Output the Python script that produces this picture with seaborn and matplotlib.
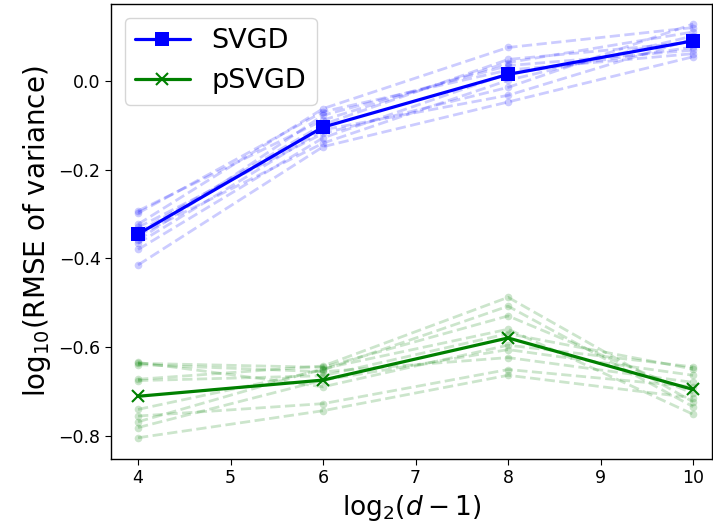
import numpy as np
import pandas as pd
import seaborn as sns
import matplotlib.pyplot as plt

# x positions: log2(d - 1)
log_dims = [4, 6, 8, 10]

# log10(RMSE of variance), one row per run (10 runs each)
svgd_runs = [
    [-0.293, -0.088, 0.042, 0.111],
    [-0.298, -0.069, 0.025, 0.062],
    [-0.323, -0.062, 0.076, 0.121],
    [-0.330, -0.118, -0.014, 0.129],
    [-0.341, -0.098, 0.049, 0.088],
    [-0.348, -0.140, 0.002, 0.102],
    [-0.359, -0.077, 0.035, 0.070],
    [-0.366, -0.110, -0.032, 0.095],
    [-0.380, -0.128, 0.017, 0.077],
    [-0.415, -0.148, -0.047, 0.055],
]
psvgd_runs = [
    [-0.635, -0.690, -0.596, -0.645],
    [-0.637, -0.646, -0.530, -0.705],
    [-0.640, -0.656, -0.624, -0.680],
    [-0.673, -0.643, -0.488, -0.724],
    [-0.676, -0.665, -0.570, -0.650],
    [-0.741, -0.652, -0.508, -0.735],
    [-0.756, -0.728, -0.651, -0.690],
    [-0.769, -0.649, -0.560, -0.752],
    [-0.782, -0.675, -0.606, -0.664],
    [-0.805, -0.744, -0.664, -0.715],
]


def to_long(runs, method):
    rows = []
    for i, run in enumerate(runs):
        for x, v in zip(log_dims, run):
            rows.append({'run': i, 'x': x, 'value': v, 'method': method})
    return pd.DataFrame(rows)


df_svgd = to_long(svgd_runs, 'SVGD')
df_psvgd = to_long(psvgd_runs, 'pSVGD')

sns.set_style("ticks")
plt.rcParams.update({
    'text.color': 'black',
    'axes.labelcolor': 'black',
    'xtick.color': 'black',
    'ytick.color': 'black',
})

fig = plt.figure(figsize=(7.13, 5.29), dpi=100)
ax = fig.add_axes([0.1557, 0.1323, 0.843, 0.86])

for df, col in [(df_svgd, 'blue'), (df_psvgd, 'green')]:
    sns.lineplot(data=df, x='x', y='value', units='run', estimator=None,
                 color=col, alpha=0.2, linestyle='--', linewidth=2,
                 marker='o', markersize=5.5, markeredgewidth=0, ax=ax)

sns.lineplot(data=df_svgd, x='x', y='value', estimator='mean', errorbar=None,
             color='blue', linewidth=2.3, marker='s', markersize=10,
             markeredgewidth=0, label='SVGD', ax=ax)
sns.lineplot(data=df_psvgd, x='x', y='value', estimator='mean', errorbar=None,
             color='green', linewidth=2.3, marker='x', markersize=8,
             markeredgewidth=1.5, markeredgecolor='green', label='pSVGD', ax=ax)

ax.set_xlim(3.708, 10.205)
ax.set_ylim(-0.853, 0.174)
ax.set_xticks([4, 5, 6, 7, 8, 9, 10])
ax.set_yticks([-0.8, -0.6, -0.4, -0.2, 0.0])
ax.tick_params(labelsize=12.5, direction='out', length=4, color='black')
for s in ax.spines.values():
    s.set_color('black')
    s.set_linewidth(1)

ax.set_xlabel(r'log$_2(d-1)$', fontsize=19)
ax.set_ylabel(r'log$_{10}$(RMSE of variance)', fontsize=20)
ax.legend(loc='upper left', fontsize=19.5, frameon=True)

fig.savefig('out.png', dpi=100)
